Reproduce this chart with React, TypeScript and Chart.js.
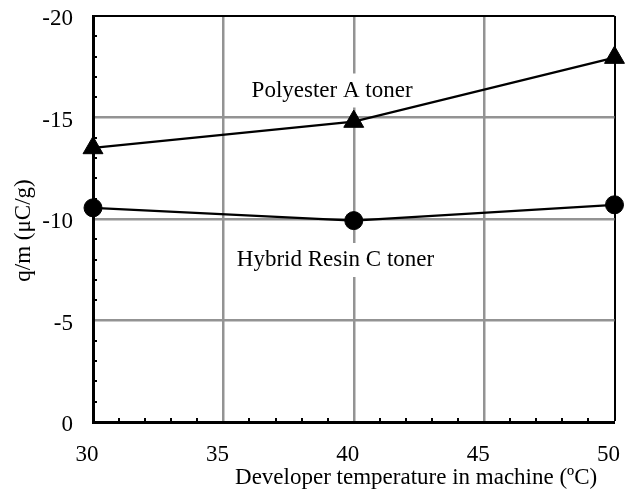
import { useEffect, useRef } from 'react';
import { Chart, registerables } from 'chart.js';

Chart.register(...registerables);

// ---- data ----
const temperatures = [30, 40, 50];
const polyesterA = [-13.5, -14.8, -17.95];
const hybridResinC = [-10.55, -9.92, -10.7];

const xTickLabels = ['30', '35', '40', '45', '50'];
const yTickLabels = ['-20', '-15', '-10', '-5', '0'];

const seriesNames = ['Polyester A toner', 'Hybrid Resin C toner'];
const xTitle = 'Developer temperature in machine (ºC)';
const yTitle = 'q/m (μC/g)';
// label anchors, in data units
const labelAnchorX = [39.17, 39.3];
const labelAnchorY = [-16.33, -7.98];

const FONT_FAMILY = '"Liberation Serif", "Times New Roman", serif';
const FONT_SIZE = 23;
const GRID = '#939393';
const CLEAR = 'rgba(0,0,0,0)';

const labelPlugin = {
  id: 'seriesLabels',
  beforeDatasetsDraw(chart: any) {
    const { ctx, scales } = chart;
    const xs = scales.x;
    const ys = scales.y;
    ctx.save();
    ctx.font = `${FONT_SIZE}px ${FONT_FAMILY}`;
    ctx.textAlign = 'center';
    ctx.textBaseline = 'middle';
    seriesNames.forEach((t, i) => {
      const px = xs.getPixelForValue(labelAnchorX[i]);
      const py = ys.getPixelForValue(labelAnchorY[i]);
      const w = ctx.measureText(t).width;
      ctx.fillStyle = '#ffffff';
      ctx.fillRect(px - w / 2 - 6, py - 17, w + 12, 34);
      ctx.fillStyle = '#000000';
      ctx.fillText(t, px, py);
    });
    ctx.restore();
  },
};

export default function App() {
  const ref = useRef<HTMLCanvasElement | null>(null);

  useEffect(() => {
    if (!ref.current) return;
    const font = { family: FONT_FAMILY, size: FONT_SIZE };
    const chart = new Chart(ref.current, {
      type: 'line',
      data: {
        datasets: [
          {
            label: seriesNames[0],
            data: temperatures.map((t, i) => ({ x: t, y: polyesterA[i] })),
            borderColor: '#000',
            backgroundColor: '#000',
            borderWidth: 2.2,
            pointStyle: 'triangle',
            pointRadius: 11.5,
            pointBorderWidth: 1,
            pointBackgroundColor: '#000',
            pointBorderColor: '#000',
            clip: false,
          } as any,
          {
            label: seriesNames[1],
            data: temperatures.map((t, i) => ({ x: t, y: hybridResinC[i] })),
            borderColor: '#000',
            backgroundColor: '#000',
            borderWidth: 2.2,
            pointStyle: 'circle',
            pointRadius: 9,
            pointBorderWidth: 1,
            pointBackgroundColor: '#000',
            pointBorderColor: '#000',
            clip: false,
          } as any,
        ],
      },
      options: {
        animation: false,
        responsive: false,
        layout: { padding: { left: 0, top: 16, right: 9, bottom: 0 } },
        plugins: {
          legend: { display: false },
          tooltip: { enabled: false },
        },
        scales: {
          x: {
            type: 'linear',
            min: 30,
            max: 50,
            afterFit: (s: any) => {
              s.height = 80;
              s.paddingLeft = 0;
              s.paddingRight = 0;
            },
            ticks: {
              stepSize: 1,
              autoSkip: false,
              maxTicksLimit: 100,
              maxRotation: 0,
              padding: 23,
              labelOffset: -6,
              color: '#000',
              font,
              callback: (v: any) => (xTickLabels.includes(String(v)) ? String(v) : ''),
            },
            grid: {
              drawTicks: true,
              tickLength: -4,
              tickWidth: 2,
              color: (c: any) => {
                const v = c.tick?.value;
                if (v === 50) return '#000';
                return v % 5 === 0 ? GRID : CLEAR;
              },
              lineWidth: (c: any) => {
                const v = c.tick?.value;
                if (v === 30) return 0;
                if (v === 50) return 2;
                return v % 5 === 0 ? 2.5 : 0;
              },
              tickColor: (c: any) => (c.tick?.value % 5 === 0 ? CLEAR : '#000'),
            },
            border: { display: true, color: '#000', width: 3 },
            title: {
              display: true,
              text: xTitle + '   ',
              align: 'end',
              color: '#000',
              font,
              padding: { top: 0, bottom: 10 },
            },
          },
          y: {
            type: 'linear',
            min: -20,
            max: 0,
            reverse: true,
            afterFit: (s: any) => {
              s.width = 93;
              s.paddingTop = 0;
              s.paddingBottom = 0;
            },
            ticks: {
              stepSize: 1,
              autoSkip: false,
              maxTicksLimit: 100,
              padding: 24,
              labelOffset: 3,
              color: '#000',
              font,
              callback: (v: any) => (yTickLabels.includes(String(v)) ? String(v) : ''),
            },
            grid: {
              drawTicks: true,
              tickLength: -4,
              tickWidth: 2,
              color: (c: any) => {
                const v = c.tick?.value;
                if (v === -20) return '#000';
                return v % 5 === 0 ? GRID : CLEAR;
              },
              lineWidth: (c: any) => {
                const v = c.tick?.value;
                if (v === 0) return 0;
                if (v === -20) return 2;
                return v % 5 === 0 ? 2.5 : 0;
              },
              tickColor: (c: any) => (c.tick?.value % 5 === 0 ? CLEAR : '#000'),
            },
            border: { display: true, color: '#000', width: 3 },
            title: {
              display: true,
              text: yTitle + '    ',
              color: '#000',
              font,
              padding: { top: 10, bottom: 0 },
            },
          },
        },
      } as any,
      plugins: [labelPlugin],
    });
    return () => chart.destroy();
  }, []);

  return (
    <div style={{ position: 'absolute', left: 0, top: 0, width: 627, height: 502, background: '#fff' }}>
      <canvas ref={ref} width={627} height={502} />
    </div>
  );
}
